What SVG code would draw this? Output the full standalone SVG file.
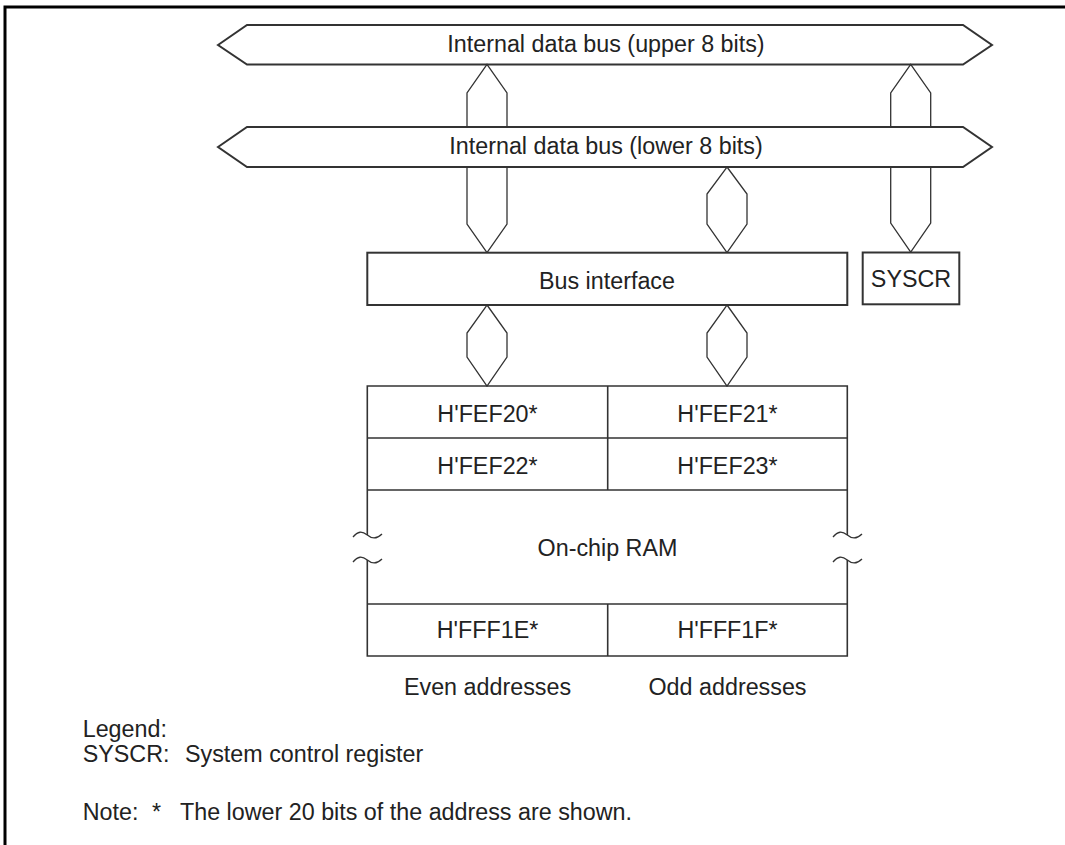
<svg xmlns="http://www.w3.org/2000/svg" width="1065" height="845" viewBox="0 0 1065 845">
<style>
text{font-family:"Liberation Sans",Arial,sans-serif;font-size:23.3px;fill:#222}
.c{text-anchor:middle}
.bus{fill:#fff;stroke:#333;stroke-width:2}
.box{fill:#fff;stroke:#333;stroke-width:2}
.cn{fill:#fff;stroke:#333;stroke-width:1.3}
.op{fill:none;stroke:#333;stroke-width:1.3}
.ln{fill:none;stroke:#333;stroke-width:1.6}
</style>
<rect width="1065" height="845" fill="#fff"/>
<path d="M5,845 V7 H1065" fill="none" stroke="#000" stroke-width="3"/>

<g id="upper-bus">
<polygon class="bus" points="218,45 247,25 963,25 992,45 963,64.5 247,64.5"/>
<text class="c" x="606" y="52.3">Internal data bus (upper 8 bits)</text>
</g>
<g id="lower-bus">
<polygon class="bus" points="218,147 247,127 963,127 992,147 963,167 247,167"/>
<text class="c" x="606" y="154.3">Internal data bus (lower 8 bits)</text>
</g>

<g id="connectors">
<path class="op" d="M467,127 V93 L487,64.5 L507,93 V127"/>
<path class="op" d="M467,167 V224 L487,252.7 L507,224 V167"/>
<path class="op" d="M890.7,127 V93 L910.7,64.5 L930.7,93 V127"/>
<path class="op" d="M890.7,167 V223 L910.7,252 L930.7,223 V167"/>
<polygon class="cn" points="727,167 747,194 747,224 727,252.7 707,224 707,194"/>
<polygon class="cn" points="487,305 507,333 507,357 487,386 467,357 467,333"/>
<polygon class="cn" points="727,305 747,333 747,357 727,386 707,357 707,333"/>
</g>

<g id="bus-interface">
<rect class="box" x="367.3" y="252.7" width="480" height="52.3"/>
<text class="c" x="607" y="289.3">Bus interface</text>
</g>
<g id="syscr">
<rect class="box" x="862.7" y="252.5" width="96.6" height="51.8"/>
<text class="c" x="911" y="287.3">SYSCR</text>
</g>

<g id="ram">
<path class="ln" d="M367.3,535 V386 H847.3 V535 M367.3,560 V656 H847.3 V560"/>
<path class="ln" d="M367.3,438 H847.3 M367.3,490 H847.3 M367.3,604 H847.3 M607.7,386 V490 M607.7,604 V656"/>
<path class="op" d="M353,537 C358,531 362,531 367.3,535 C372,539 377,539 382,534 M353,562 C358,556 362,556 367.3,560 C372,564 377,564 382,559"/>
<path class="op" d="M833,537 C838,531 842,531 847.3,535 C852,539 857,539 862,534 M833,562 C838,556 842,556 847.3,560 C852,564 857,564 862,559"/>
<text class="c" x="487.5" y="421.7">H'FEF20*</text>
<text class="c" x="727.5" y="421.7">H'FEF21*</text>
<text class="c" x="487.5" y="473.7">H'FEF22*</text>
<text class="c" x="727.5" y="473.7">H'FEF23*</text>
<text class="c" x="607.5" y="556">On-chip RAM</text>
<text class="c" x="487.5" y="638.3">H'FFF1E*</text>
<text class="c" x="727.5" y="638.3">H'FFF1F*</text>
<text class="c" x="487.5" y="695">Even addresses</text>
<text class="c" x="727.5" y="695">Odd addresses</text>
</g>

<g id="legend">
<text x="82.7" y="737">Legend:</text>
<text x="82.7" y="761.7">SYSCR:<tspan x="185">System control register</tspan></text>
<text x="82.7" y="820">Note:<tspan x="152">*</tspan><tspan x="180">The lower 20 bits of the address are shown.</tspan></text>
</g>
</svg>
